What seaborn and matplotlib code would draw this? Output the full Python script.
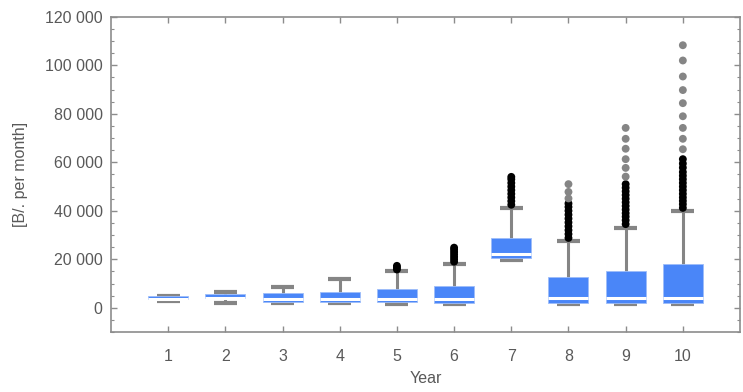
import numpy as np
import pandas as pd
import seaborn as sns
import matplotlib.pyplot as plt
from matplotlib.ticker import FuncFormatter, MultipleLocator

# box statistics (B/. per month)
years = [1, 2, 3, 4, 5, 6, 7, 8, 9, 10]
q1 = [3700, 4000, 2400, 2400, 2200, 1900, 20600, 1800, 1800, 1800]
med = [3700, 4000, 3600, 3500, 3700, 3700, 22000, 4100, 4100, 4100]
q3 = [4700, 5700, 5900, 6600, 7800, 9000, 28900, 12600, 15100, 18100]
whislo = [2800, 2100, 2100, 1800, 1500, 1500, 19900, 1500, 1500, 1500]
whishi = [5000, 6600, 8400, 12000, 15100, 18100, 41200, 27500, 33000, 39800]

# outliers: near (black) and far (gray)
near_out = {
    5: [15800, 16600, 17300],
    6: [19000, 20000, 21000, 22000, 23000, 24000, 24800],
    7: [42500, 44000, 45500, 47000, 48500, 50000, 51500, 53000, 54000],
    8: [28800, 30400, 32000, 33600, 35200, 36800, 38400, 40000, 41600, 43000],
    9: [34500, 36100, 37600, 39000, 40500, 42000, 43500, 45000, 46500,
        48000, 49500, 51000],
    10: [41200, 42700, 44100, 45500, 47000, 48500, 50000, 51500, 53000,
         54500, 56000, 57800, 59500, 61300],
}
far_out = {
    8: [45100, 47800, 51000],
    9: [54100, 57700, 61300, 65600, 69700, 74200],
    10: [65400, 69700, 74200, 79000, 84400, 89800, 95400, 102000, 108300],
}

BLUE = "#4a86f8"
GRAY = "#858585"
TEXT = "#595959"

sns.set_theme(style="ticks")
plt.rcParams["font.family"] = ["Liberation Sans", "DejaVu Sans"]

fig = plt.figure(figsize=(7.43, 3.92), dpi=100)
ax = fig.add_axes([0.1494, 0.153, 0.8466, 0.804])

stats = [
    dict(med=m, q1=a, q3=b, whislo=lo, whishi=hi, fliers=[])
    for m, a, b, lo, hi in zip(med, q1, q3, whislo, whishi)
]
ax.bxp(
    stats, positions=years, widths=0.7, capwidths=0.4,
    patch_artist=True, showfliers=False, manage_ticks=False,
    boxprops=dict(facecolor=BLUE, edgecolor="#9dbdf9", linewidth=0.6, zorder=3),
    medianprops=dict(color="white", linewidth=2.2, zorder=4, solid_capstyle="butt"),
    whiskerprops=dict(color=GRAY, linewidth=2.2, zorder=2),
    capprops=dict(color=GRAY, linewidth=3.0, zorder=2, solid_capstyle="butt"),
)

rows = []
for y, vals in near_out.items():
    rows += [(y, v, "near") for v in vals]
for y, vals in far_out.items():
    rows += [(y, v, "far") for v in vals]
out = pd.DataFrame(rows, columns=["year", "value", "kind"])
sns.scatterplot(
    data=out, x="year", y="value", hue="kind",
    palette={"near": "black", "far": GRAY},
    s=32, linewidth=0, legend=False, ax=ax, zorder=5,
)

ax.set_xlim(0, 11)
ax.set_ylim(-10000, 120000)
ax.set_xticks(years)
ax.set_xticklabels([str(y) for y in years])
ax.yaxis.set_major_locator(MultipleLocator(20000))
ax.yaxis.set_minor_locator(MultipleLocator(5000))
ax.yaxis.set_major_formatter(
    FuncFormatter(lambda v, p: f"{int(v):,}".replace(",", " "))
)

for sp in ax.spines.values():
    sp.set_visible(True)
    sp.set_color("#8c8c8c")
    sp.set_linewidth(1.2)

ax.tick_params(axis="both", which="both", direction="in", colors="#8c8c8c",
               labelcolor=TEXT, labelsize=11.5, top=True, right=True)
ax.tick_params(axis="y", which="major", length=4, width=1, pad=6)
ax.tick_params(axis="y", which="minor", length=2.2, width=0.8)
ax.tick_params(axis="x", which="major", length=4, width=1, pad=12)
ax.tick_params(axis="x", which="minor", length=0)

ax.set_xlabel("Year", color=TEXT, fontsize=11.5, labelpad=5)
ax.set_ylabel("[B/. per month]", color=TEXT, fontsize=11.5, labelpad=12)

fig.savefig("out.png", dpi=100)
